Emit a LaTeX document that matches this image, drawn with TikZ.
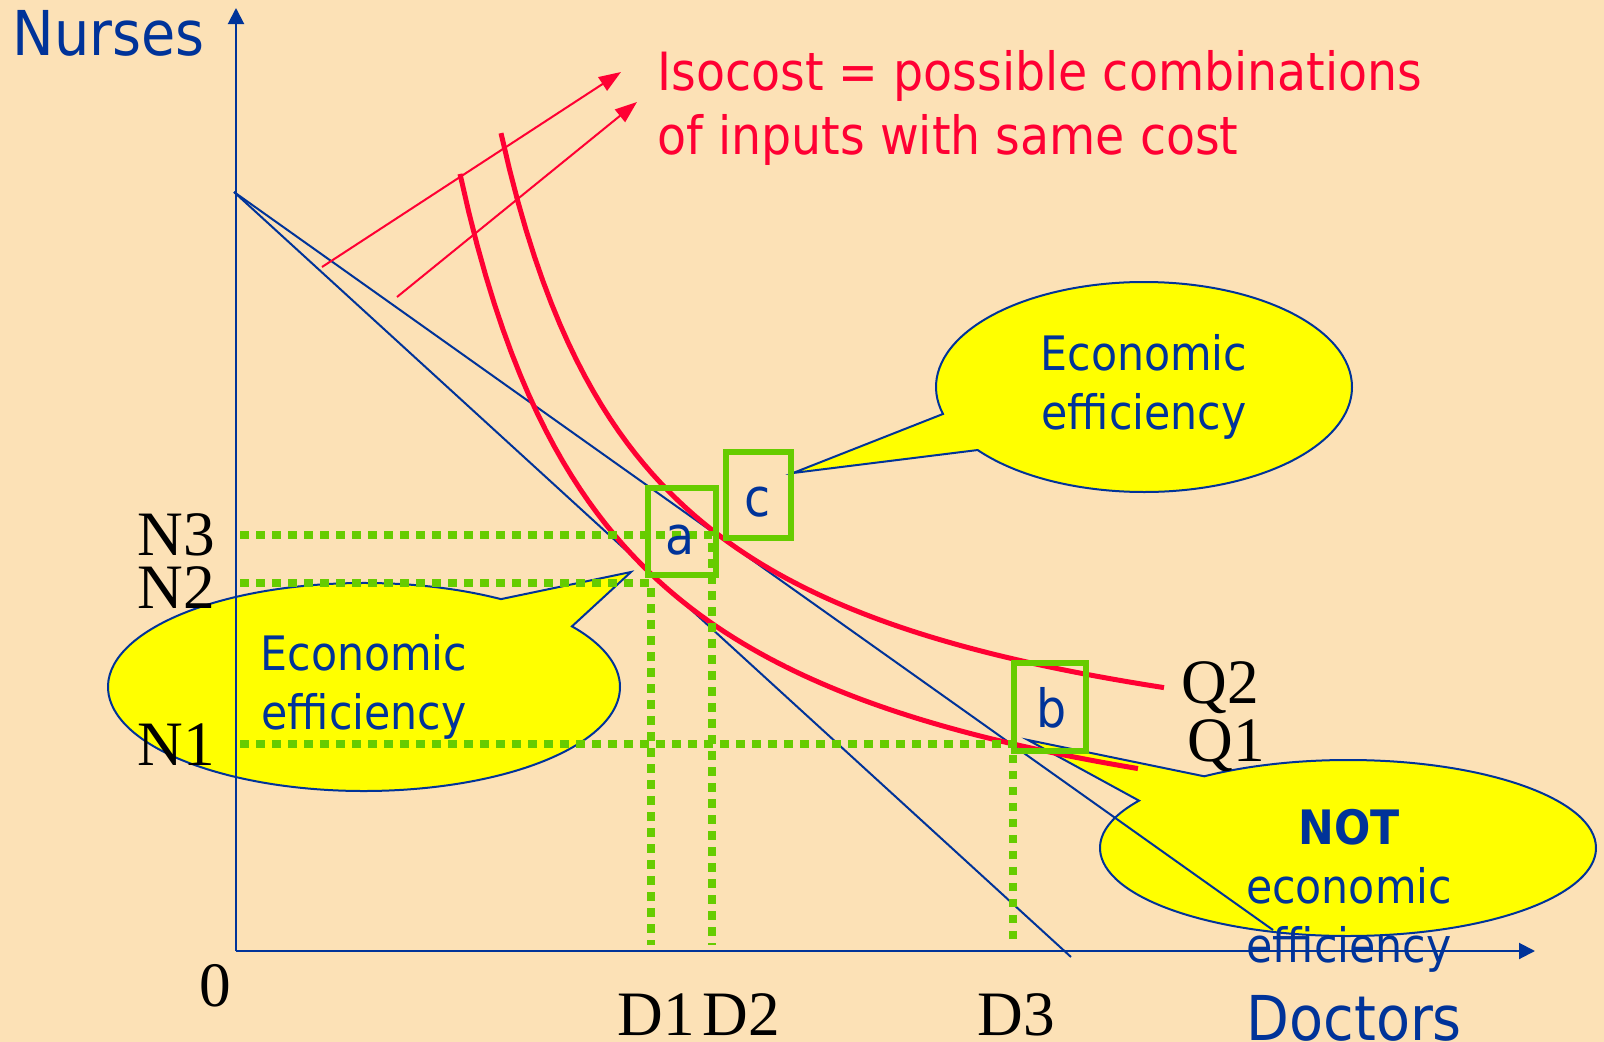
\documentclass[tikz,border=0pt]{standalone}
\usepackage{fontspec}
\setmainfont{DejaVu Sans Condensed}
\newfontfamily\labelfont{Liberation Serif}
\usepackage{tikz}
\usetikzlibrary{arrows.meta,shapes.callouts}
\definecolor{slidebg}{HTML}{FCE1B6}
\definecolor{axisblue}{HTML}{003399}
\definecolor{costred}{HTML}{FF0033}
\definecolor{markgreen}{HTML}{66CC00}
\definecolor{notegold}{HTML}{FFFF00}

\begin{document}
\begin{tikzpicture}[x=1cm,y=-1cm,
    axis/.style={-{Triangle[length=1.6mm,width=1.6mm]},line width=0.2mm,axisblue},
    isocost/.style={line width=0.2mm,axisblue},
    isoquant/.style={line width=0.5mm,costred},
    pointer/.style={-{Triangle[length=2.2mm,width=1.6mm]},line width=0.2mm,costred},
    guide/.style={line width=0.75mm,markgreen,dash pattern=on 0.85mm off 0.75mm},
    markbox/.style={draw=markgreen,line width=0.6mm},
    bubble/.style={ellipse callout,draw=axisblue,line width=0.2mm,fill=notegold,
      callout pointer arc=22,inner sep=1pt,align=center,text=axisblue,
      font=\fontsize{13.5}{16.8}\selectfont},
    axislabel/.style={text=axisblue,font=\fontsize{17.6}{20}\selectfont,inner sep=0pt},
    tick/.style={font=\labelfont\fontsize{18}{20}\selectfont,inner sep=0pt,anchor=base},
    point/.style={text=axisblue,font=\fontsize{15}{17}\selectfont,inner sep=0pt}
  ]
    \fill[slidebg] (0,0) rectangle (16.04,10.42);
    \useasboundingbox (0,0) rectangle (16.04,10.42);

    % points of the graph
    \coordinate (O) at (2.36,9.51);
    \coordinate (ytop) at (2.36,0.08);
    \coordinate (xtip) at (15.35,9.51);
    \coordinate (start) at (2.34,1.92);
    \coordinate (end1) at (10.71,9.57);
    \coordinate (end2) at (12.73,9.30);

    % callouts
    \coordinate (tipc) at (7.93,4.73);
    \coordinate (tipa) at (6.31,5.72);
    \coordinate (tipb) at (10.28,7.40);
    \node[bubble,minimum width=4.16cm,minimum height=2.10cm,
      callout absolute pointer={(tipc)}] (effc) at (11.44,3.87) {Economic\\efficiency};
    \node[bubble,minimum width=5.12cm,minimum height=2.08cm,
      callout absolute pointer={(tipa)}] (effa) at (3.64,6.87) {Economic\\efficiency};
    \node[bubble,minimum width=4.96cm,minimum height=1.76cm,
      callout absolute pointer={(tipb)}] (effb) at (13.48,8.48) {};

    % axes
    \draw[axis] (O) -- (ytop);
    \draw[axis] (O) -- (xtip);
    \node[axislabel,anchor=base west] (nurses) at (0.12,0.56) {Nurses};
    \node[axislabel,anchor=base west] (doctors) at (12.46,10.40) {Doctors};

    % isocost lines
    \draw[isocost] (start) -- (end1);
    \draw[isocost] (start) -- (end2);

    % isoquants
    \draw[isoquant] plot[domain=4.60:11.38,samples=80] (\x,{9.089-11.76/(\x-3)});
    \draw[isoquant] plot[domain=5.01:11.64,samples=80] (\x,{8.139-10.28/(\x-3.5)});

    % dotted guides
    \coordinate (n3) at (2.40,5.35);
    \coordinate (n2) at (2.40,5.83);
    \coordinate (n1) at (2.40,7.44);
    \coordinate (d1) at (6.51,9.45);
    \coordinate (d2) at (7.12,9.45);
    \coordinate (d3) at (10.13,9.45);
    \draw[guide] (n3) -| (d2);
    \draw[guide] (n2) -| (d1);
    \draw[guide] (n1) -| (d3);

    % boxes
    \draw[markbox] (6.48,4.88) rectangle (7.16,5.75);
    \draw[markbox] (7.26,4.52) rectangle (7.91,5.38);
    \draw[markbox] (10.14,6.63) rectangle (10.86,7.51);
    \node[point] (pa) at (6.80,5.40) {a};
    \node[point] (pc) at (7.58,5.02) {c};
    \node[point] (pb) at (10.52,7.08) {b};

    % tick labels
    \node[tick] (zero) at (2.15,10.06) {0};
    \node[tick] (ln3) at (1.76,5.55) {N3};
    \node[tick] (ln2) at (1.76,6.08) {N2};
    \node[tick] (ln1) at (1.76,7.65) {N1};
    \node[tick] (ld1) at (6.56,10.35) {D1};
    \node[tick] (ld2) at (7.41,10.35) {D2};
    \node[tick] (ld3) at (10.16,10.35) {D3};
    \node[tick] (lq2) at (12.20,7.03) {Q2};
    \node[tick] (lq1) at (12.26,7.61) {Q1};

    % isocost note
    \coordinate (from1) at (3.22,2.67);
    \coordinate (to1) at (6.21,0.72);
    \coordinate (from2) at (3.97,2.97);
    \coordinate (to2) at (6.37,1.02);
    \draw[pointer] (from1) -- (to1);
    \draw[pointer] (from2) -- (to2);
    \node[anchor=base west,align=left,inner sep=0pt,text=costred,
      font=\fontsize{15}{18.2}\selectfont] (note) at (6.57,1.54)
      {Isocost = possible combinations\\of inputs with same cost};

    \node[text=axisblue,align=center,inner sep=0pt,
      font=\fontsize{13.5}{16.8}\selectfont] (nottext) at (13.49,8.91)
      {\textbf{NOT}\\economic\\efficiency};
\end{tikzpicture}
\end{document}
